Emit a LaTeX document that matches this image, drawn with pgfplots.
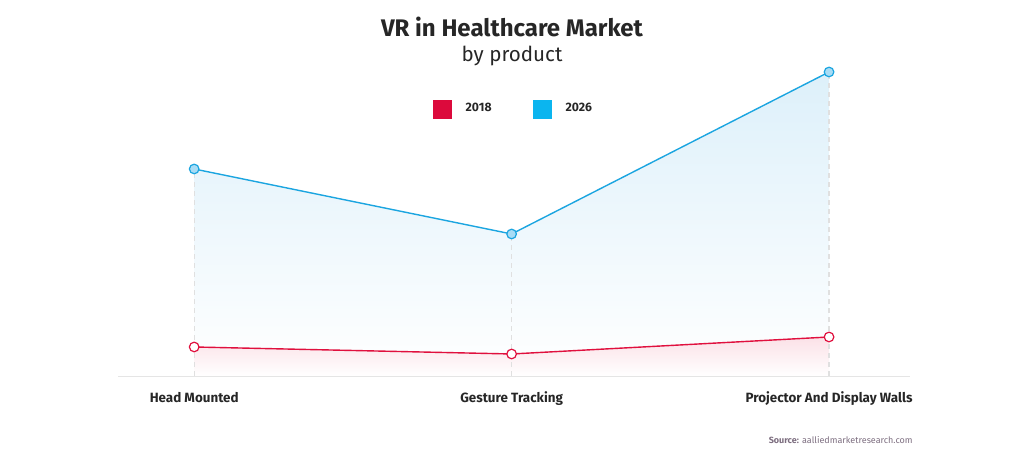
\documentclass[border=0pt]{standalone}
\usepackage{fontspec}
\setmainfont{Fira Sans}
\usepackage{pgfplots}
\pgfplotsset{compat=1.18}
\definecolor{cred}{HTML}{DC0A3C}
\definecolor{cblue}{HTML}{0BB5EF}
\definecolor{lred}{HTML}{E0103E}
\definecolor{lblue}{HTML}{1BA5E0}
\definecolor{mblue}{HTML}{A8DCF5}
\definecolor{fblue}{HTML}{DDF0FA}
\definecolor{fred}{HTML}{FBE1E7}
\definecolor{srcc}{HTML}{7D6E80}
\begin{document}
\begin{tikzpicture}
\path[use as bounding box] (0pt,0pt) rectangle (512pt,237pt);
\node[font=\bfseries\fontsize{12}{14}\selectfont, text=black!85] at (256pt,223.5pt) {VR in Healthcare Market};
\node[font=\fontsize{10.3}{12}\selectfont, text=black!85] at (256pt,209pt) {by product};
\node[anchor=east, font=\fontsize{4.5}{6}\selectfont, text=srcc, inner sep=0pt] at (456.5pt,17pt) {\textbf{Source:} aalliedmarketresearch.com};
\begin{axis}[
  at={(59pt,49pt)}, anchor=south west,
  scale only axis, width=396pt, height=158pt,
  xmin=-0.24, xmax=2.255, ymin=0, ymax=316,
  axis y line=none, axis x line*=bottom,
  x axis line style={draw=black!10, -},
  xtick={0,1,2}, ytick=\empty,
  xticklabels={Head Mounted, Gesture Tracking, Projector And Display Walls},
  major tick length=0pt,
  xticklabel style={font=\bfseries\fontsize{6.7}{8}\selectfont, text=black!85, yshift=-4.5pt},
  clip=false,
  legend style={at={(0.5005,0.844)}, anchor=center, draw=none, fill=none,
    font=\bfseries\fontsize{6.1}{7}\selectfont, text=black!85,
    /tikz/every even column/.style={column sep=18.5pt}},
  legend columns=2, legend cell align=left,
]
\addplot[draw=none, top color=fblue, middle color=fblue!45, bottom color=white, forget plot] coordinates {(0,207) (1,142) (2,304)} \closedcycle;
\addplot[draw=none, top color=fred, bottom color=white, forget plot] coordinates {(0,29) (1,22) (2,39)} \closedcycle;
\addplot[ycomb, black!12, line width=0.6pt, dash pattern=on 2.5pt off 2pt, forget plot] coordinates {(0,207) (1,142) (2,304)};
\addplot[lblue, line width=0.7pt, mark=*, mark size=2.4pt, mark options={fill=mblue, draw=lblue, line width=0.6pt}, forget plot] coordinates {(0,207) (1,142) (2,304)};
\addplot[lred, line width=0.7pt, mark=*, mark size=2.4pt, mark options={fill=white, draw=lred, line width=0.6pt}, forget plot] coordinates {(0,29) (1,22) (2,39)};
\addlegendimage{legend image code/.code={\fill[cred, draw=none] (0pt,-4.8pt) rectangle (9.6pt,4.8pt); \path[draw=none, fill=none] (0pt,0pt) -- (14.5pt,0pt);}}
\addlegendentry{2018}
\addlegendimage{legend image code/.code={\fill[cblue, draw=none] (0pt,-4.8pt) rectangle (9.6pt,4.8pt); \path[draw=none, fill=none] (0pt,0pt) -- (14.5pt,0pt);}}
\addlegendentry{2026}
\end{axis}
\end{tikzpicture}
\end{document}
